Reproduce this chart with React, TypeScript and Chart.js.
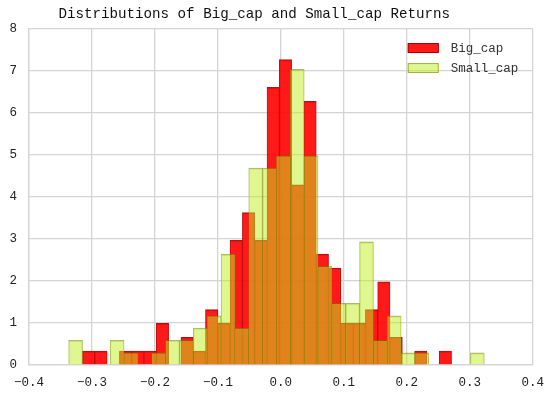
import React, { useEffect, useRef } from 'react';
import { Chart, registerables } from 'chart.js';

Chart.register(...registerables);

// ---- data ----
const titleText = 'Distributions of Big_cap and Small_cap Returns';
const seriesLabels = ['Big_cap', 'Small_cap'];

// histogram bin ranges (30 bins each)
const bigCapRange = [-0.315, 0.271];
const smallCapRange = [-0.337, 0.323];

// normed densities per bin
const bigCapDensity = [
  0.33, 0.33, 0, 0.33, 0.33, 0.33, 0.99, 0, 0.66, 0.33,
  1.32, 0.99, 2.97, 3.63, 2.97, 6.61, 7.27, 4.29, 6.28, 2.64,
  2.31, 0.99, 0.99, 1.32, 1.98, 0.66, 0, 0.33, 0, 0.33,
];
const smallCapDensity = [
  0.59, 0, 0, 0.59, 0.29, 0, 0.29, 0.59, 0.59, 0.88,
  1.17, 2.64, 0.88, 4.69, 4.69, 4.98, 7.04, 4.98, 2.35, 1.47,
  1.47, 2.93, 0.59, 1.17, 0.29, 0.29, 0, 0, 0, 0.29,
];

const xTickLabels = ['\u22120.4', '\u22120.3', '\u22120.2', '\u22120.1', '0.0', '0.1', '0.2', '0.3', '0.4'];
const yTickLabels = ['0', '1', '2', '3', '4', '5', '6', '7', '8'];

// ---- styles ----
const FONT = "'Liberation Mono', 'DejaVu Sans Mono', monospace";
const RED = 'rgba(255,0,0,0.9)';
const RED_EDGE = 'rgba(150,0,0,0.9)';
const YELLOW = 'rgba(193,237,32,0.5)';
const YELLOW_EDGE = 'rgba(110,120,0,0.55)';
const GRID = '#d4d4d4';

function histPoints(range: number[], density: number[]) {
  const w = (range[1] - range[0]) / density.length;
  return density.map((y, i) => ({ x: range[0] + (i + 0.5) * w, y }));
}

const insideLegend = {
  id: 'insideLegend',
  afterDraw(chart: any) {
    const { ctx, chartArea } = chart;
    const ds = chart.data.datasets;
    const order = [0, 1];
    ctx.save();
    ctx.font = `12.5px ${FONT}`;
    ctx.textBaseline = 'middle';
    ctx.textAlign = 'left';
    order.forEach((di, row) => {
      const d = ds[di];
      const bx = chartArea.right - 125;
      const by = chartArea.top + 14 + row * 20;
      ctx.fillStyle = d.backgroundColor;
      ctx.fillRect(bx, by, 31, 10);
      ctx.strokeStyle = d.borderColor;
      ctx.lineWidth = 1;
      ctx.strokeRect(bx + 0.5, by + 0.5, 30, 9);
      ctx.fillStyle = '#333';
      ctx.fillText(d.label, bx + 43, by + 5.5);
    });
    ctx.restore();
  },
};

export default function App() {
  const ref = useRef<HTMLCanvasElement | null>(null);

  useEffect(() => {
    if (!ref.current) return;
    const chart = new Chart(ref.current, {
      type: 'bar',
      data: {
        datasets: [
          {
            label: seriesLabels[0],
            data: histPoints(bigCapRange, bigCapDensity),
            backgroundColor: RED,
            borderColor: RED_EDGE,
            borderWidth: { top: 1, left: 0.5, right: 0.5, bottom: 0 },
            borderSkipped: false,
            xAxisID: 'x',
            order: 2,
          },
          {
            label: seriesLabels[1],
            data: histPoints(smallCapRange, smallCapDensity),
            backgroundColor: YELLOW,
            borderColor: YELLOW_EDGE,
            borderWidth: { top: 1, left: 0.5, right: 0.5, bottom: 0 },
            borderSkipped: false,
            xAxisID: 'x2',
            order: 1,
          },
        ],
      } as any,
      options: {
        animation: false,
        responsive: false,
        maintainAspectRatio: false,
        layout: { padding: { left: 0, right: 20, top: 0, bottom: 0 } },
        datasets: {
          bar: { barPercentage: 1, categoryPercentage: 1, grouped: false },
        } as any,
        plugins: {
          legend: { display: false },
          tooltip: { enabled: false },
          title: {
            display: true,
            text: titleText + '   ',
            color: '#111',
            font: { family: FONT, size: 14.2, weight: 'normal' },
            padding: { top: 6, bottom: 6 },
          },
        },
        scales: {
          x: {
            type: 'linear',
            min: -0.4,
            max: 0.4,
            offset: false,
            grid: { color: GRID, lineWidth: 1.3, offset: false, drawTicks: false },
            border: { color: GRID, width: 1.3 },
            ticks: {
              stepSize: 0.1,
              padding: 10,
              color: '#222',
              font: { family: FONT, size: 12.5 },
              maxRotation: 0,
              autoSkip: false,
              callback: (_v: any, i: number) => xTickLabels[i],
            },
            afterFit: (s: any) => { s.height = 30; },
          },
          x2: {
            type: 'linear',
            min: -0.4,
            max: 0.4,
            offset: false,
            display: false,
            grid: { display: false, offset: false },
          },
          y: {
            type: 'linear',
            min: 0,
            max: 8,
            grid: { color: GRID, lineWidth: 1.3, drawTicks: false },
            border: { color: GRID, width: 1.3 },
            ticks: {
              stepSize: 1,
              padding: 12,
              color: '#222',
              font: { family: FONT, size: 12.5 },
              callback: (_v: any, i: number) => yTickLabels[i],
            },
            afterFit: (s: any) => { s.width = 29; },
          },
        },
      } as any,
      plugins: [insideLegend],
    });
    return () => chart.destroy();
  }, []);

  return (
    <div style={{ position: 'fixed', left: 0, top: 0, width: 554, height: 395, background: '#fff' }}>
      <canvas ref={ref} width={554} height={395} style={{ display: 'block' }} />
    </div>
  );
}
